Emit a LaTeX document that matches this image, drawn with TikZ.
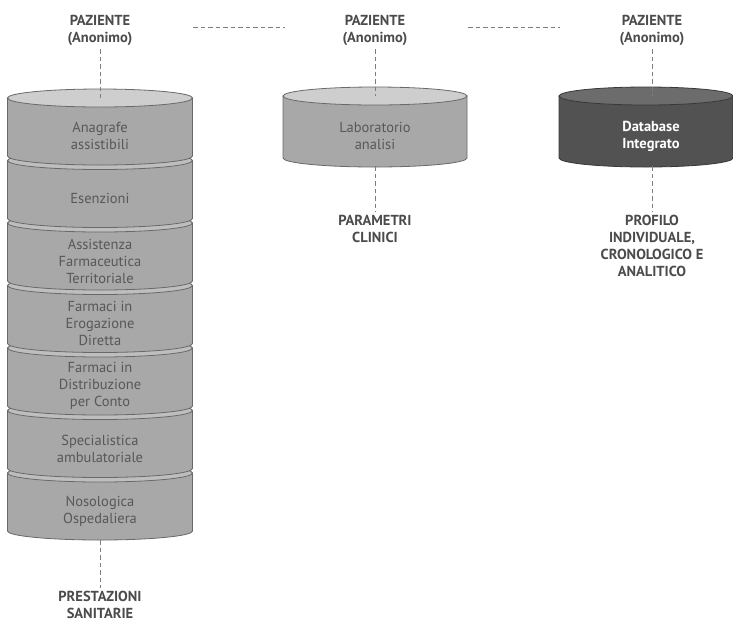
\documentclass[tikz,border=0pt]{standalone}
\usepackage{fontspec}
\setmainfont{PT Sans}
\usetikzlibrary{positioning}

\definecolor{segbody}{RGB}{168,168,168}
\definecolor{segtop}{RGB}{206,206,206}
\definecolor{segline}{RGB}{105,105,105}
\definecolor{segtext}{RGB}{88,88,88}
\definecolor{dbbody}{RGB}{82,82,82}
\definecolor{dbtop}{RGB}{108,108,108}
\definecolor{labtext}{RGB}{75,75,75}
\definecolor{linkgray}{RGB}{125,125,125}

\newcommand{\diagfont}{\fontsize{14.5}{17}\selectfont}
% #1 centre x, #2 top y, #3 bottom y, #4 half width, #5 style
\newcommand{\cylseg}[5]{%
  \filldraw[#5] (#1-#4,-#2) -- (#1-#4,-#3) arc[start angle=180,end angle=360,x radius=#4,y radius=9] -- (#1+#4,-#2) -- cycle;
  \filldraw[#5 top] (#1,-#2) ellipse[x radius=#4,y radius=9];
}

\begin{document}
\begin{tikzpicture}[x=1pt,y=1pt,font=\diagfont]

	\tikzstyle{seg}=[draw=segline,fill=segbody,line width=0.8pt]
	\tikzstyle{seg top}=[draw=segline,fill=segtop,line width=0.8pt]
	\tikzstyle{segl}=[seg]
	\tikzstyle{segl top}=[draw=segline,fill=segbody!75!white,line width=0.8pt]
	\tikzstyle{db}=[draw=dbbody!70!black,fill=dbbody,line width=0.8pt]
	\tikzstyle{db top}=[draw=dbbody!70!black,fill=dbtop,line width=0.8pt]
	\tikzstyle{seg text}=[text=segtext,align=center]
	\tikzstyle{db text}=[text=white,align=center,font=\diagfont\bfseries]
	\tikzstyle{lab}=[text=labtext,align=center,font=\diagfont\bfseries]
	\tikzstyle{link}=[draw=linkgray,line width=0.9pt,dash pattern=on 4.5pt off 3pt]

	\useasboundingbox (0,0) rectangle (733,-625);

	% left stack, drawn from the bottom up
	\foreach \i/\txt in {6/{Nosologica\\Ospedaliera},5/{Specialistica\\ambulatoriale},4/{Farmaci in\\Distribuzione\\per Conto},3/{Farmaci in\\Erogazione\\Diretta},2/{Assistenza\\Farmaceutica\\Territoriale},1/{Esenzioni}}{
		\pgfmathsetmacro{\yt}{98+62.5*\i}
		\pgfmathsetmacro{\yb}{\yt+58}
		\cylseg{100}{\yt}{\yb}{92.5}{segl}
		\node[seg text] (s\i) at (100,-\yt-38) {\txt};
	}
	\cylseg{100}{98}{156}{92.5}{seg}
	\node[seg text] (s0) at (100,-136) {Anagrafe\\assistibili};

	\cylseg{375}{96}{158}{92}{seg}
	\node[seg text] (lab) at (375,-136) {Laboratorio\\analisi};

	\cylseg{646}{96}{158}{87}{db}
	\node[db text] (dbi) at (651,-136) {Database\\Integrato};

	\coordinate (t1) at (100,-98);
	\coordinate (b1) at (100,-540);
	\coordinate (t2) at (375,-96);
	\coordinate (b2) at (375,-166);
	\coordinate (t3) at (652,-96);
	\coordinate (b3) at (652,-166);

	\node[lab] (pz1) [above=49pt of t1] {PAZIENTE\\(Anonimo)};
	\node[lab] (pz2) [above=47pt of t2] {PAZIENTE\\(Anonimo)};
	\node[lab] (pz3) [above=47pt of t3] {PAZIENTE\\(Anonimo)};

	\node[lab] (ps) [below=48pt of b1] {PRESTAZIONI\\SANITARIE};
	\node[lab] (pc) [below=46pt of b2] {PARAMETRI\\CLINICI};
	\node[lab] (pi) [below=46pt of b3] {PROFILO\\INDIVIDUALE,\\CRONOLOGICO E\\ANALITICO};

	\coordinate (h1a) at (193,-27);
	\coordinate (h1b) at (285,-27);
	\coordinate (h2a) at (468,-27);
	\coordinate (h2b) at (560,-27);

	\path[link] (pz1) -- (t1) (pz2) -- (t2) (pz3) -- (t3)
		(b1) -- (ps) (b2) -- (pc) (b3) -- (pi)
		(h1a) -- (h1b) (h2a) -- (h2b);

\end{tikzpicture}
\end{document}
